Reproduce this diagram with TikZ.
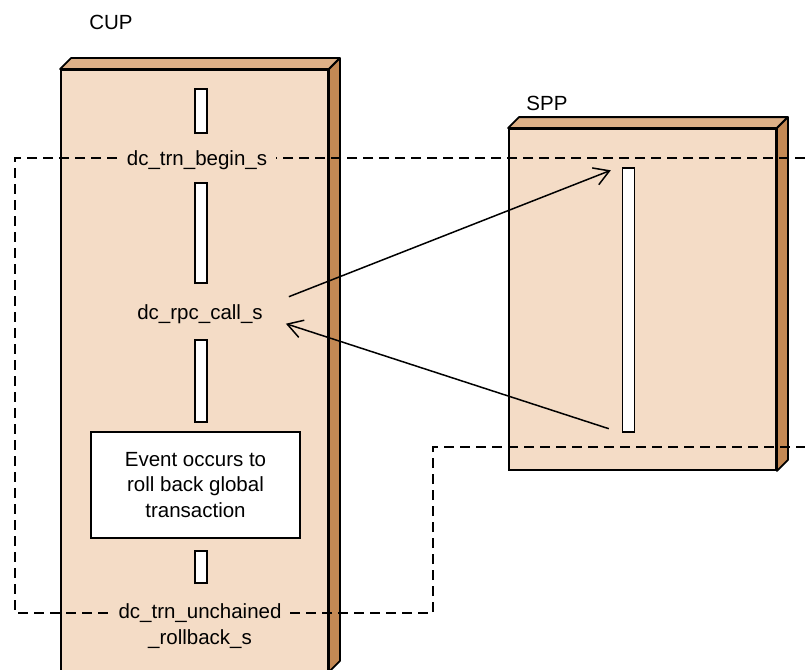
\documentclass[tikz,border=0pt]{standalone}
\usepackage{fontspec}
\setmainfont{Liberation Sans}
\usetikzlibrary{arrows.meta}

\definecolor{face}{RGB}{244,220,198}
\definecolor{lid}{RGB}{221,176,135}
\definecolor{flank}{RGB}{196,137,84}

\begin{document}
\begin{tikzpicture} [x=1pt, y=-1pt, font=\fontsize{20.5}{25.5}\selectfont,
        panel/.style={draw, fill=face, line width=1.8pt, inner sep=0pt},
        bar/.style={draw, fill=white, line width=1.4pt, inner sep=0pt, minimum width=12pt},
        call/.style={fill=face, inner xsep=9pt, inner ysep=1pt, anchor=base},
        flow/.style={dash pattern=on 10pt off 6pt, line width=1.5pt},
        msg/.style={-{Straight Barb[length=15pt, width=18pt]}, line width=1.5pt}]
        \useasboundingbox (0,0) rectangle (805,669);

        % processes
        \node (cup) [panel, minimum width=267pt, minimum height=601pt] at (194.5,370.5) {};
        \node (spp) [panel, minimum width=267pt, minimum height=341pt] at (642.5,299.5) {};
        \foreach \p in {cup, spp} {
            \draw [line width=1.8pt, fill=lid, line join=round] (\p.north west) -- ++(11,-11)
                -- ([shift={(11,-11)}]\p.north east) -- (\p.north east) -- cycle;
            \draw [line width=1.8pt, fill=flank, line join=round] (\p.north east) -- ++(11,-11)
                -- ([shift={(11,-11)}]\p.south east) -- (\p.south east) -- cycle;
        }
        \node (cupname) at (111,22) {CUP};
        \node (sppname) at (547,103) {SPP};

        % global transaction range
        \coordinate (g0) at (805,158);
        \coordinate (g1) at (15,613);
        \coordinate (g2) at (433,447);
        \coordinate (g3) at (805,447);
        \draw [flow] (g0) -| (g1) -| (g2) -- (g3);

        % calls
        \node (begin) [call] at (197,165) {dc\_trn\_begin\_s};
        \node (rpc) [call, fill=none] at (200,319) {dc\_rpc\_call\_s};
        \node (rollback) [call, align=center] at (200,644) {dc\_trn\_unchained\\\_rollback\_s};
        \node (event) [draw, fill=white, line width=1.8pt, minimum width=209pt, minimum height=106pt,
            align=center] at (195.5,485) {Event occurs to\\roll back global\\transaction};

        % activity bars
        \node (b1) [bar, minimum height=44pt] at (201,111) {};
        \node (b2) [bar, minimum height=100pt] at (201,233) {};
        \node (b3) [bar, minimum height=82pt] at (201,381) {};
        \node (b4) [bar, minimum height=32pt] at (201,567) {};
        \node (sbar) [bar, minimum height=264pt] at (628.5,300) {};

        \draw [msg] ([shift={(17,-17)}]rpc.east) -- ([shift={(-11,3)}]sbar.north west);
        \draw [msg] ([shift={(-13,-4)}]sbar.south west) -- ([shift={(14,10)}]rpc.east);
    \end{tikzpicture}
\end{document}
